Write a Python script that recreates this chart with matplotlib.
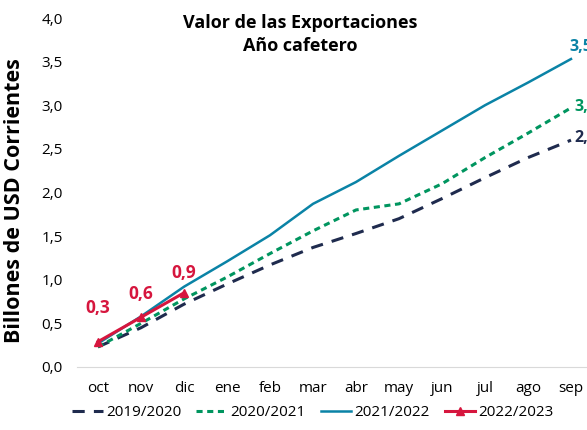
import matplotlib

matplotlib.use("Agg")
import matplotlib.pyplot as plt

plt.rcParams["font.family"] = ["Open Sans", "DejaVu Sans"]

months = ["oct", "nov", "dic", "ene", "feb", "mar", "abr", "may", "jun",
          "jul", "ago", "sep"]
y_1920 = [0.23, 0.45, 0.72, 0.95, 1.17, 1.37, 1.53, 1.70, 1.93, 2.17, 2.40, 2.60]
y_2021 = [0.23, 0.50, 0.78, 1.03, 1.30, 1.56, 1.80, 1.87, 2.10, 2.40, 2.68, 2.97]
y_2122 = [0.27, 0.58, 0.92, 1.21, 1.51, 1.87, 2.12, 2.42, 2.71, 3.00, 3.26, 3.53]
y_2223 = [0.29, 0.57, 0.85]
labels_2223 = ["0,3", "0,6", "0,9"]

C_NAVY = "#1F2B4E"
C_GREEN = "#00955F"
C_TEAL = "#0A83A6"
C_RED = "#D6163E"

fig = plt.figure(figsize=(5.87, 4.30), dpi=100)
ax = fig.add_axes([76.5 / 587, 1 - 367 / 430, 516 / 587, 349 / 430])
x = list(range(len(months)))

ax.plot(x, y_1920, color=C_NAVY, lw=2.2, dashes=(4, 3), label="2019/2020")
ax.plot(x, y_2021, color=C_GREEN, lw=2.2, dashes=(2, 1.5), label="2020/2021")
ax.plot(x, y_2122, color=C_TEAL, lw=1.8, label="2021/2022")
ax.plot(x[:len(y_2223)], y_2223, color=C_RED, lw=2.2, marker="^",
        markersize=6, label="2022/2023")

# red data labels (offsets in points above each marker)
for xi, yi, t, dy in zip(x, y_2223, labels_2223, [24, 17, 14]):
    ax.annotate(t, (xi, yi), xytext=(0, dy), textcoords="offset points",
                color=C_RED, fontsize=12.5, fontweight="bold",
                ha="center", va="center")

ax.text(11 - 0.03, 3.67, "3,5", color=C_TEAL, fontsize=11.5, fontweight="bold",
        ha="left", va="center")
ax.text(11 + 0.09, 2.98, "3,0", color=C_GREEN, fontsize=11.5, fontweight="bold",
        ha="left", va="center")
ax.text(11 + 0.09, 2.63, "2,6", color=C_NAVY, fontsize=11.5, fontweight="bold",
        ha="left", va="center")

ax.set_xlim(-0.5, 11.5)
ax.set_ylim(0, 4)
ax.set_xticks(x)
ax.set_xticklabels(months, fontsize=11)
ax.set_yticks([0, 0.5, 1, 1.5, 2, 2.5, 3, 3.5, 4])
ax.set_yticklabels(["0,0", "0,5", "1,0", "1,5", "2,0", "2,5", "3,0", "3,5", "4,0"],
                   fontsize=11)
ax.tick_params(length=0, pad=10)
for s in ("top", "right", "left"):
    ax.spines[s].set_visible(False)
ax.spines["bottom"].set_color("#d9d9d9")
ax.set_ylabel("Billones de USD Corrientes", fontsize=15.5, fontweight="bold")
ax.yaxis.set_label_coords(-0.10, 0.478)

fig.text(300 / 587, 1 - 14 / 430, "Valor de las Exportaciones\nAño cafetero",
         ha="center", va="top", fontsize=13, fontweight="bold",
         linespacing=1.35)

fig.legend(loc="center", bbox_to_anchor=(313 / 587, 1 - 413 / 430), ncol=4,
           frameon=False, fontsize=11, handlelength=2.0, handletextpad=0.2,
           columnspacing=1.0)

fig.savefig("out.png", dpi=100)
